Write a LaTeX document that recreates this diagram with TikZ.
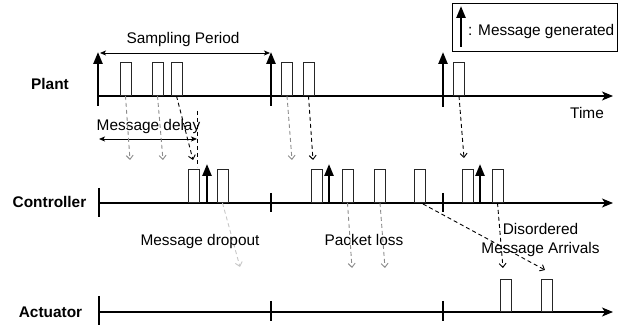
\documentclass[tikz,border=0pt]{standalone}
\usepackage{fontspec}
\setmainfont{Liberation Sans}
\usetikzlibrary{arrows.meta,calc}
\begin{document}
\begin{tikzpicture}[x=1pt,y=-1pt,
  every node/.style={font=\fontsize{15.4}{18.5}\selectfont},
  lbl/.style={inner sep=0pt, anchor=base},
  rowlbl/.style={lbl, font=\fontsize{15.4}{18.5}\selectfont\bfseries},
  msg/.style={draw=black!85, line width=0.9pt, minimum width=11pt, minimum height=33pt, inner sep=0pt, anchor=south},
  axisline/.style={line width=1.1pt, -{Stealth[length=11pt,width=9pt,inset=3pt]}},
  tickline/.style={line width=2pt},
  genarrow/.style={line width=2.4pt, -{Triangle[length=12pt,width=9pt]}},
  dimline/.style={line width=0.8pt, {Stealth[length=6pt,width=5pt,inset=1.5pt]}-{Stealth[length=6pt,width=5pt,inset=1.5pt]}},
  darr/.style={line width=0.9pt, dash pattern=on 4pt off 3pt, -{Straight Barb[length=4pt,width=7pt]}},
  blk/.style={darr, draw=black},
  gry/.style={darr, draw=black!45},
  lgry/.style={darr, draw=black!22}
]
\useasboundingbox (0,0) rectangle (627,328);

% axes coordinates
\coordinate (ps) at (98,96);   \coordinate (pe) at (613,96);
\coordinate (cs) at (99,203);  \coordinate (ce) at (613,203);
\coordinate (as) at (99,312);  \coordinate (ae) at (613,312);
\draw[axisline] (ps) -- (pe);
\draw[axisline] (cs) -- (ce);
\draw[axisline] (as) -- (ae);

% row labels
\node[rowlbl] (plant) at (50,90) {Plant};
\node[rowlbl] (ctrl) at (49.5,208) {Controller};
\node[rowlbl] (act) at (50.5,318) {Actuator};
\node[lbl] (time) at (587,119) {Time};

% ticks
\coordinate (ct0a) at (99,188);  \coordinate (ct0b) at (99,217);
\coordinate (ct1a) at (271,193); \coordinate (ct1b) at (271,212);
\coordinate (ct2a) at (443,193); \coordinate (ct2b) at (443,212);
\coordinate (at0a) at (99,296);  \coordinate (at0b) at (99,325);
\coordinate (at1a) at (271,301); \coordinate (at1b) at (271,321);
\coordinate (at2a) at (443,301); \coordinate (at2b) at (443,321);
\foreach \t in {ct0,ct1,ct2,at0,at1,at2} \draw[tickline] (\t a) -- (\t b);

% message generated arrows
\coordinate (pg0a) at (98,106);  \coordinate (pg0b) at (98,52);
\coordinate (pg1a) at (271,106); \coordinate (pg1b) at (271,52);
\coordinate (pg2a) at (443,107); \coordinate (pg2b) at (443,52);
\coordinate (cg0a) at (207,203); \coordinate (cg0b) at (207,164);
\coordinate (cg1a) at (329,203); \coordinate (cg1b) at (329,164);
\coordinate (cg2a) at (480,203); \coordinate (cg2b) at (480,164);
\foreach \g in {pg0,pg1,pg2,cg0,cg1,cg2} \draw[genarrow] (\g a) -- (\g b);

% message boxes
\node[msg] (p1) at (125.5,96) {};
\node[msg] (p2) at (157.5,96) {};
\node[msg] (p3) at (176.5,96) {};
\node[msg] (p4) at (287,96) {};
\node[msg] (p5) at (308.5,96) {};
\node[msg] (p6) at (459,96) {};
\node[msg] (c1) at (193.5,203) {};
\node[msg] (c2) at (222.5,203) {};
\node[msg] (c3) at (316.5,203) {};
\node[msg] (c4) at (347.5,203) {};
\node[msg] (c5) at (380,203) {};
\node[msg] (c6) at (420,203) {};
\node[msg] (c7) at (467.5,203) {};
\node[msg] (c8) at (497.5,203) {};
\node[msg, minimum height=32pt] (a1) at (505.5,312) {};
\node[msg, minimum height=32pt] (a2) at (546.5,312) {};

% sampling period
\coordinate (sp1) at (100,53); \coordinate (sp2) at (270,53);
\draw[dimline] (sp1) -- (sp2);
\node[lbl] (splbl) at (183,44) {Sampling Period};

% message delay
\coordinate (md1) at (99,139); \coordinate (md2) at (197,139);
\draw[dimline] (md1) -- (md2);
\coordinate (mdv1) at (197,111); \coordinate (mdv2) at (197,167);
\draw[line width=0.9pt, dash pattern=on 4pt off 3pt] (mdv1) -- (mdv2);
\node[lbl] (mdlbl) at (148.5,131) {Message delay};

% plant -> controller
\coordinate (e1) at (130,160);
\coordinate (e2) at (163,160);
\coordinate (e3) at (193,160);
\coordinate (e4) at (292,160);
\coordinate (e5) at (313,160);
\coordinate (e6) at (464,158);
\draw[gry] (p1.south) -- (e1);
\draw[gry] (p2.south) -- (e2);
\draw[blk] (p3.south) -- (e3);
\draw[gry] (p4.south) -- (e4);
\draw[blk] (p5.south) -- (e5);
\draw[blk] (p6.south) -- (e6);

% controller -> actuator
\coordinate (f2) at (240,267);
\coordinate (f4) at (352,268);
\coordinate (f5) at (385,268);
\coordinate (f6) at (545,270);
\coordinate (f8) at (503,268);
\draw[lgry] (c2.south) -- (f2);
\draw[gry] (c4.south) -- (f4);
\draw[gry] (c5.south) -- (f5);
\draw[blk] ($(c6.south)+(3,1)$) -- (f6);
\draw[blk] (c8.south) -- (f8);

\node[lbl] (droplbl) at (200,246) {Message dropout};
\node[lbl] (losslbl) at (364,246) {Packet loss};
\node[lbl] (dis1) at (540.5,235) {Disordered};
\node[lbl] (dis2) at (540.5,254) {Message Arrivals};

% legend
\node[draw, line width=0.9pt, minimum width=165pt, minimum height=48pt, inner sep=0pt, anchor=north west] (legend) at (452,3) {};
\coordinate (lg1) at (461,47); \coordinate (lg2) at (461,6);
\draw[genarrow] (lg1) -- (lg2);
\node[lbl, anchor=base west] (legtxt) at (468,36) {: Message generated};
\end{tikzpicture}
\end{document}
